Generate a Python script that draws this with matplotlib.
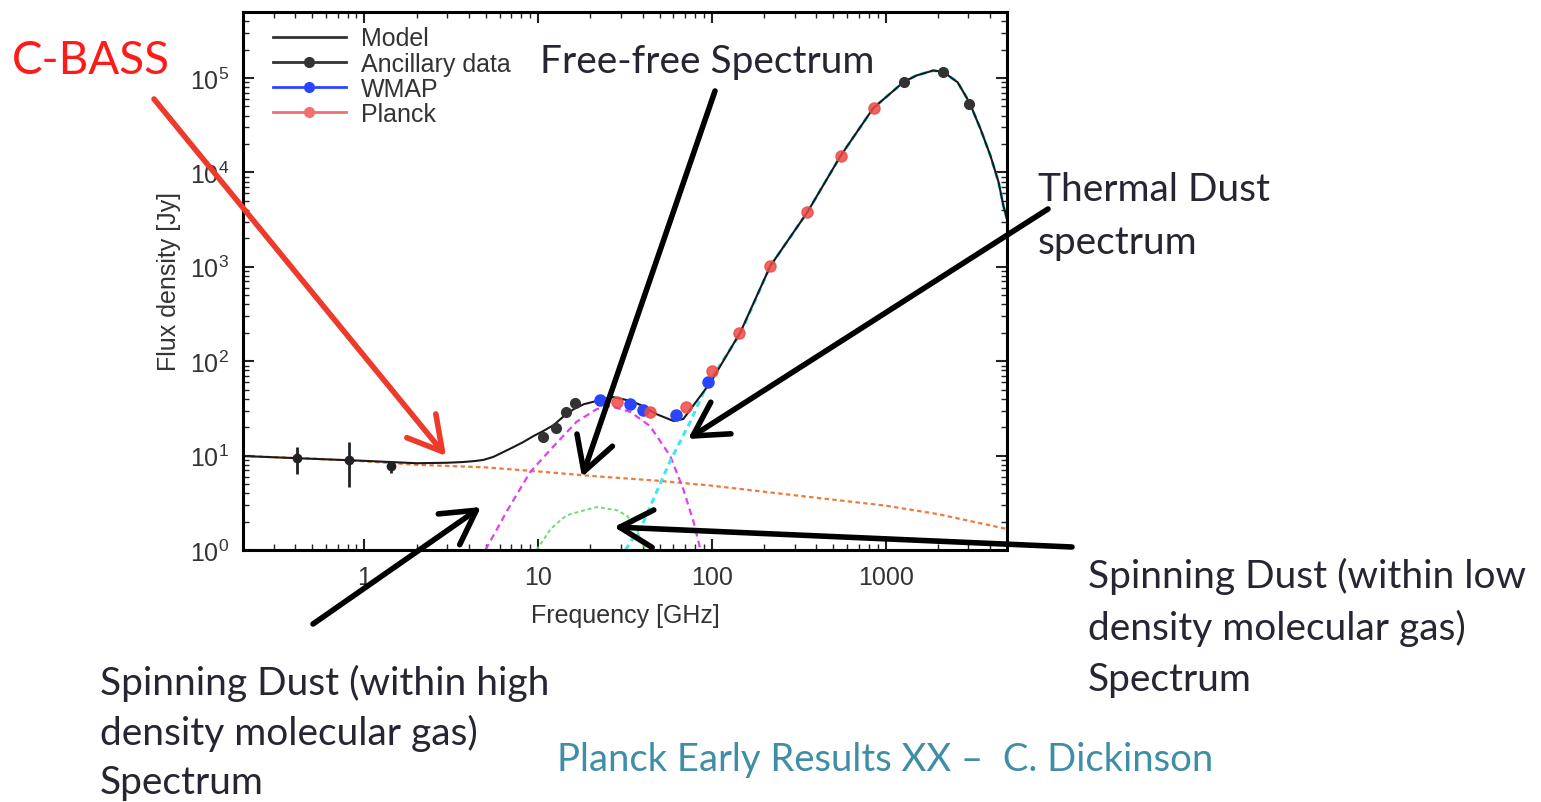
import matplotlib
matplotlib.use('Agg')
import matplotlib.pyplot as plt
from matplotlib.lines import Line2D
from matplotlib.patches import FancyArrowPatch
from matplotlib.ticker import NullFormatter

plt.rcParams['font.family'] = ['Liberation Sans', 'DejaVu Sans']
plt.rcParams['mathtext.fontset'] = 'custom'
plt.rcParams['mathtext.rm'] = 'Liberation Sans'
plt.rcParams['mathtext.it'] = 'Liberation Sans:italic'
plt.rcParams['mathtext.bf'] = 'Liberation Sans:bold'

# --- data (GHz, Jy) ---
low_nu = [0.408, 0.82, 1.42]
low_S = [9.4, 9.0, 7.8]
low_err_lo = [3.0, 4.4, 1.3]
low_err_hi = [2.9, 5.0, 0.7]

cosmo_nu = [10.7, 12.6, 14.4, 16.4]
cosmo_S = [15.7, 19.6, 29.0, 36.0]

dirbe_nu = [1270, 2150, 3040]
dirbe_S = [90700, 116000, 53000]

wmap_nu = [22.8, 33.6, 40.4, 62.5, 94.4]
wmap_S = [38.8, 35.2, 30.4, 26.9, 60.0]

planck_nu = [28.6, 44.3, 71.4, 100, 144, 215, 355, 557, 863]
planck_S = [37.0, 29.0, 32.7, 78.7, 199, 1020, 3800, 14900, 48000]

model_nu = [0.2, 0.4, 1.0, 2.0, 3.0, 3.7, 4.3, 4.84, 5.53, 6.3, 7.2, 8.2, 9.4, 10.7,
            12.3, 14.0, 16.0, 18.3, 22.8, 27.0, 34.0, 40.0, 48.0, 60.0, 68.5, 81.0,
            98.5, 146, 217, 355, 550, 850, 1270, 1500, 1880, 2150, 2600, 3040, 3520,
            4020, 4470, 4770, 5000]
model_S = [9.9, 9.4, 8.8, 8.3, 8.4, 8.55, 8.75, 9.0, 9.7, 10.9, 12.3, 13.9, 16.1, 18.2,
           21.1, 26.0, 31.0, 35.0, 38.8, 41.7, 38.0, 33.6, 27.5, 23.3, 24.4, 37.0,
           60.0, 203, 1020, 3800, 14900, 48000, 90700, 106000, 120000, 116000, 90000,
           55000, 28800, 14900, 7900, 4400, 3200]

ff_nu = [0.2, 0.5, 1, 2, 5, 10, 20, 50, 100, 300, 1000, 2000, 5000]
ff_S = [9.9, 9.3, 8.7, 8.0, 7.5, 6.8, 6.1, 5.4, 4.8, 3.8, 2.95, 2.4, 1.67]

sd_high_nu = [4.97, 6.57, 9.0, 12.3, 16.6, 21.7, 26.0, 34.0, 44.0, 57.6, 68.5, 78.5, 86.0]
sd_high_S = [1.0, 2.53, 6.7, 12.6, 22.7, 31.0, 33.5, 29.0, 20.6, 9.9, 4.4, 1.98, 1.0]

sd_low_nu = [9.8, 11.8, 14.0, 15.3, 21.7, 28.2, 32.7, 37.2, 40.4, 41.5]
sd_low_S = [1.0, 1.67, 2.2, 2.4, 2.85, 2.65, 2.29, 1.55, 1.15, 1.0]

dust_nu = [31.8, 40.4, 57.6, 75.0, 93.0, 146, 217, 355, 550, 850, 1270, 1500,
           1880, 2150, 2600, 3040, 3520, 4020, 4470, 4770, 5000]
dust_S = [1.0, 1.98, 8.8, 22.7, 54.5, 196, 1015, 3795, 14895, 47995, 90695, 105995,
          119995, 115995, 89995, 54995, 28795, 14895, 7895, 4395, 3195]

W, H = 1541, 803
fig = plt.figure(figsize=(W / 100, H / 100), dpi=100)


def fpos(x, y):
    return (x / W, 1 - y / H)


ax = fig.add_axes([243 / W, 1 - 551 / H, (1007 - 243) / W, (551 - 13) / H])
ax.set_xscale('log')
ax.set_yscale('log')
ax.set_xlim(0.2, 5000)
ax.set_ylim(1, 5e5)

# model components
ax.plot(ff_nu, ff_S, color='#f07a3c', lw=1.6, ls=(0, (2, 1.5)))
ax.plot(sd_high_nu, sd_high_S, color='#e040f0', lw=1.6, ls=(0, (3, 2)))
ax.plot(sd_low_nu, sd_low_S, color='#70dd70', lw=1.4, ls=(0, (2, 1.5)))
ax.plot(dust_nu, dust_S, color='#40e6f0', lw=2.2, ls=(0, (2, 1.5)))
ax.plot(model_nu, model_S, color='#1a1a1a', lw=1.5)

# data
ax.errorbar(low_nu, low_S, yerr=[low_err_lo, low_err_hi], fmt='o', color='#222222',
            ms=6, elinewidth=2, capsize=0)
ax.plot(cosmo_nu, cosmo_S, 'o', color='#333333', ms=7)
ax.plot(dirbe_nu, dirbe_S, 'o', color='#333333', ms=7)
ax.plot(wmap_nu, wmap_S, 'o', color='#2a45ff', ms=8)
ax.plot(planck_nu, planck_S, 'o', color='#ee4a44', ms=8, alpha=0.85)

for s in ax.spines.values():
    s.set_linewidth(2.2)
ax.tick_params(which='both', direction='in', top=True, right=True, colors='#222222',
               labelcolor='#333333', labelsize=18)
ax.tick_params(which='major', length=8, width=1.5)
ax.tick_params(which='minor', length=4, width=1)
ax.set_xticks([1, 10, 100, 1000])
ax.set_xticklabels(['1', '10', '100', '1000'])
ax.xaxis.set_minor_formatter(NullFormatter())
ax.tick_params(axis='x', pad=11)
ax.tick_params(axis='y', pad=10)
ax.set_xlabel('Frequency [GHz]', fontsize=18, color='#333333', labelpad=10)
ax.set_ylabel('Flux density [Jy]', fontsize=18, color='#333333', labelpad=6)

handles = [
    Line2D([], [], color='#333333', lw=2),
    Line2D([], [], color='#333333', lw=2, marker='o', ms=7),
    Line2D([], [], color='#2a45ff', lw=2, marker='o', ms=7),
    Line2D([], [], color='#f07070', lw=2, marker='o', ms=7),
]
labels = ['Model', 'Ancillary data', 'WMAP', 'Planck']
ax.legend(handles, labels, loc='upper left', bbox_to_anchor=(0.01, 1.015), frameon=False,
          fontsize=18, handlelength=2.9, handletextpad=0.6, labelspacing=0.05,
          labelcolor='#333333')

# annotations
ann_font = 'Lato'
dark = '#262633'
fig.text(*fpos(12, 61), 'C-BASS', color='#ff1a1a', fontsize=33, family=ann_font, va='center')
fig.text(*fpos(540, 62), 'Free-free Spectrum', color=dark, fontsize=28, family=ann_font, va='center')
for i, line in enumerate(['Thermal Dust', 'spectrum']):
    fig.text(*fpos(1038, 190 + 53 * i), line, color=dark, fontsize=28, family=ann_font, va='center')
for i, line in enumerate(['Spinning Dust (within low', 'density molecular gas)', 'Spectrum']):
    fig.text(*fpos(1088, 576 + 52 * i), line, color=dark, fontsize=28, family=ann_font, va='center')
for i, line in enumerate(['Spinning Dust (within high', 'density molecular gas)', 'Spectrum']):
    fig.text(*fpos(100, 683 + 50 * i), line, color=dark, fontsize=28, family=ann_font, va='center')
fig.text(*fpos(557, 760), 'Planck Early Results XX \u2013  C. Dickinson', color='#3f8ea6',
         fontsize=27.5, family=ann_font, va='center')

arrows = [
    ((154, 100), (446, 457), '#ee3a2a'),
    ((715, 92), (582, 478), 'black'),
    ((1048, 210), (688, 440), 'black'),
    ((1072, 548), (614, 528), 'black'),
    ((313, 625), (481, 508), 'black'),
]
for tail, head, col in arrows:
    arr = FancyArrowPatch(fpos(*tail), fpos(*head), transform=fig.transFigure,
                          arrowstyle='->,head_length=0.8,head_width=0.45',
                          mutation_scale=30, lw=4, color=col, shrinkA=0, shrinkB=0)
    fig.add_artist(arr)

fig.savefig('out.png', dpi=100)
